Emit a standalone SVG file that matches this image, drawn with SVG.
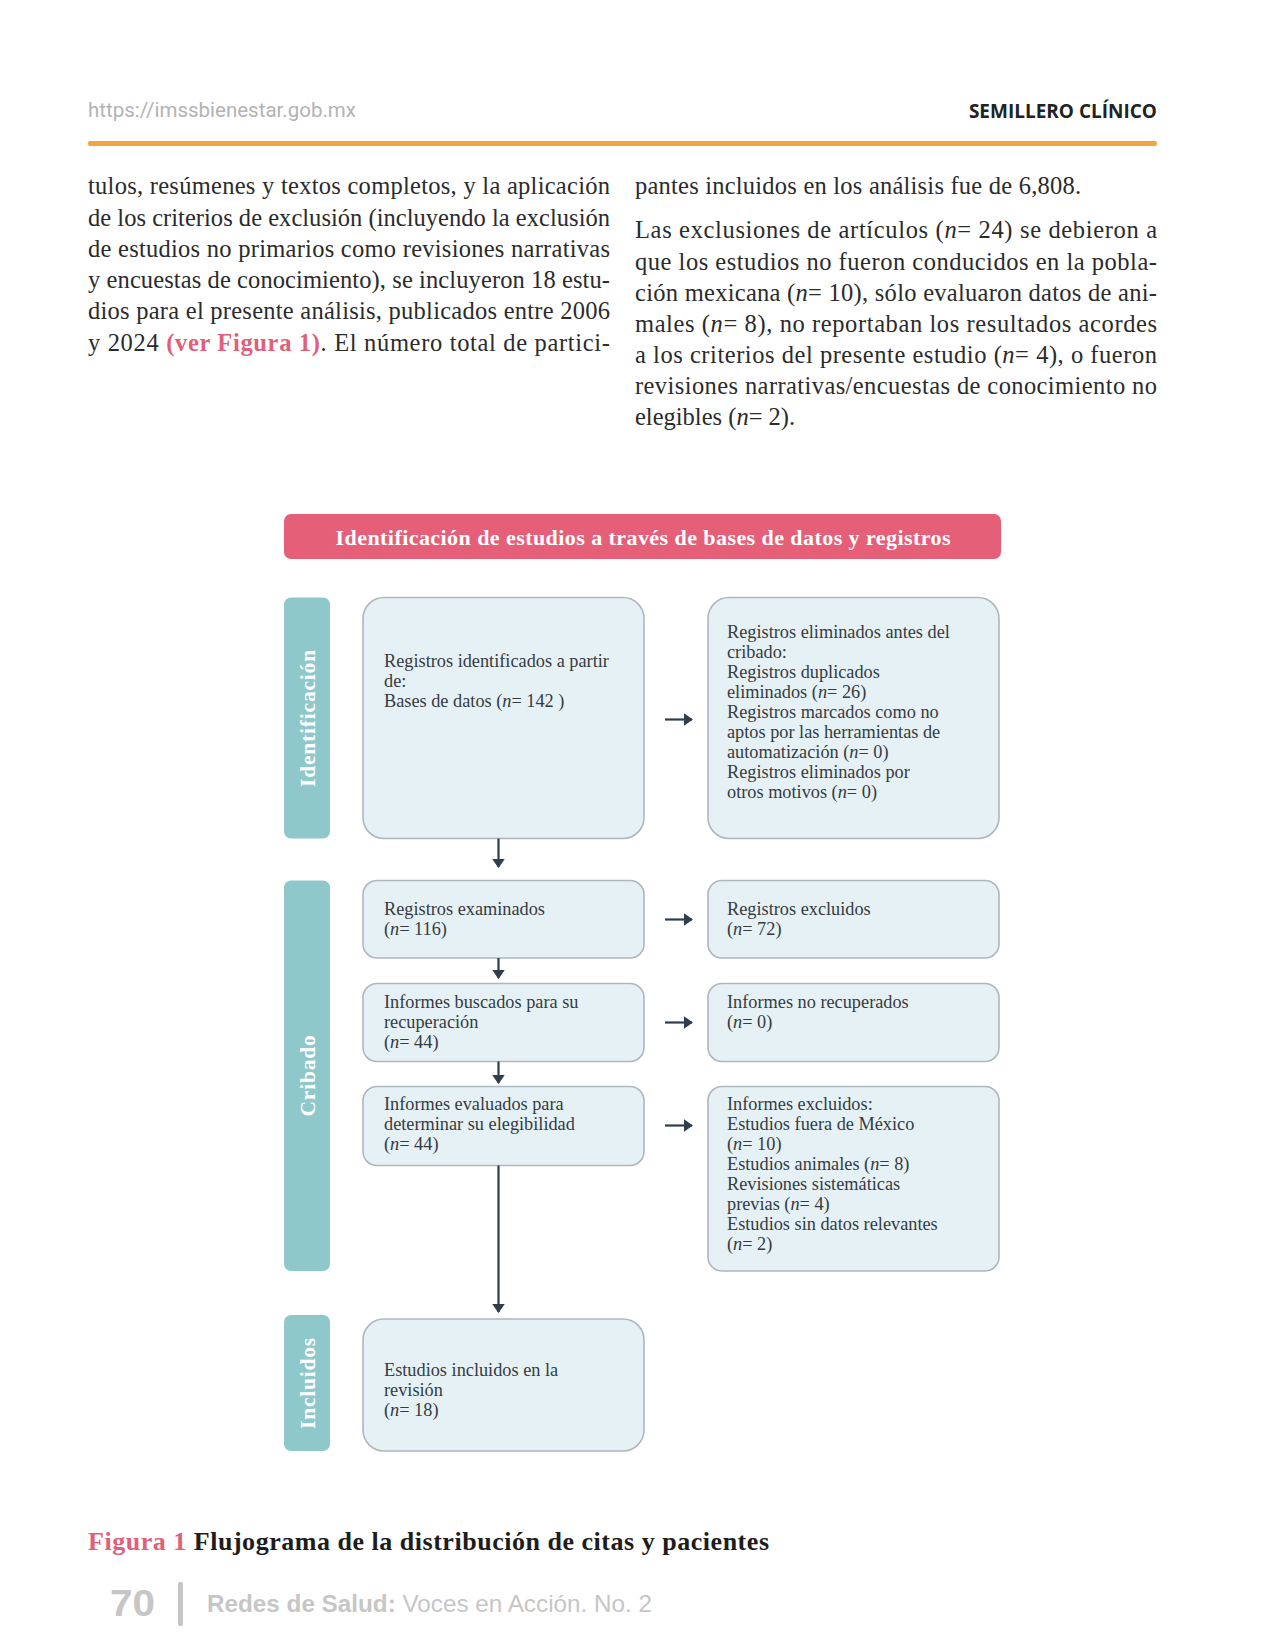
<svg xmlns="http://www.w3.org/2000/svg" width="1275" height="1650" viewBox="0 0 1275 1650">
<defs>
<style>
.body{font-family:"Liberation Serif","DejaVu Serif",serif;font-size:24.5px;fill:#2b2b2b}
.bx{font-family:"Liberation Serif","DejaVu Serif",serif;font-size:18.3px;fill:#353b40}
.box{fill:#E6F1F6;stroke:#AEB7BD;stroke-width:1.6}
.side{fill:#8EC8CB}
.sidet{font-family:"Liberation Serif","DejaVu Serif",serif;font-size:21.5px;font-weight:bold;fill:#ffffff;text-anchor:middle;letter-spacing:0.8px}
.conn{stroke:#2F3E4C;stroke-width:2.2;fill:none}
.i{font-style:italic}
</style>
<marker id="ah" viewBox="0 0 10 14" refX="9" refY="7" markerWidth="4.2" markerHeight="5.9" orient="auto" markerUnits="strokeWidth">
<path d="M0,0 L10,7 L0,14 Z" fill="#2F3E4C"/>
</marker>
</defs>
<rect width="1275" height="1650" fill="#ffffff"/>

<!-- header -->
<text x="88" y="117" font-family="Roboto,'Liberation Sans',sans-serif" font-size="20.5" fill="#B3B3B3">https://imssbienestar.gob.mx</text>
<text x="1157" y="118" font-family="'Open Sans','Noto Sans',sans-serif" font-size="19" font-weight="bold" fill="#222" text-anchor="end">SEMILLERO CLÍNICO</text>
<rect x="88" y="141" width="1069" height="5" rx="2" fill="#F2A541"/>

<!-- body left column -->
<g class="body">
<text x="88" y="194" textLength="522" lengthAdjust="spacing">tulos, resúmenes y textos completos, y la aplicación</text>
<text x="88" y="226" textLength="522" lengthAdjust="spacing">de los criterios de exclusión (incluyendo la exclusión</text>
<text x="88" y="257" textLength="522" lengthAdjust="spacing">de estudios no primarios como revisiones narrativas</text>
<text x="88" y="288" textLength="522" lengthAdjust="spacing">y encuestas de conocimiento), se incluyeron 18 estu-</text>
<text x="88" y="319" textLength="522" lengthAdjust="spacing">dios para el presente análisis, publicados entre 2006</text>
<text x="88" y="351" textLength="522" lengthAdjust="spacing">y 2024 <tspan fill="#E0607A" font-weight="bold">(ver Figura 1)</tspan>. El número total de partici-</text>
</g>
<!-- body right column -->
<g class="body">
<text x="635" y="194" textLength="446" lengthAdjust="spacing">pantes incluidos en los análisis fue de 6,808.</text>
<text x="635" y="238" textLength="522" lengthAdjust="spacing">Las exclusiones de artículos (<tspan class="i">n</tspan>= 24) se debieron a</text>
<text x="635" y="270" textLength="522" lengthAdjust="spacing">que los estudios no fueron conducidos en la pobla-</text>
<text x="635" y="301" textLength="522" lengthAdjust="spacing">ción mexicana (<tspan class="i">n</tspan>= 10), sólo evaluaron datos de ani-</text>
<text x="635" y="332" textLength="522" lengthAdjust="spacing">males (<tspan class="i">n</tspan>= 8), no reportaban los resultados acordes</text>
<text x="635" y="363" textLength="522" lengthAdjust="spacing">a los criterios del presente estudio (<tspan class="i">n</tspan>= 4), o fueron</text>
<text x="635" y="394" textLength="522" lengthAdjust="spacing">revisiones narrativas/encuestas de conocimiento no</text>
<text x="635" y="425">elegibles (<tspan class="i">n</tspan>= 2).</text>
</g>

<!-- title bar -->
<g id="title">
<rect x="284" y="514" width="717" height="45" rx="7" fill="#E65F78"/>
<text x="643" y="545" font-family="'Liberation Serif','DejaVu Serif',serif" font-size="22" font-weight="bold" fill="#ffffff" text-anchor="middle" textLength="615" lengthAdjust="spacing">Identificación de estudios a través de bases de datos y registros</text>
</g>

<!-- side labels -->
<g id="side-identificacion">
<rect class="side" x="284" y="597.5" width="46" height="241" rx="7"/>
<text class="sidet" transform="translate(315,718) rotate(-90)">Identificación</text>
</g>
<g id="side-cribado">
<rect class="side" x="284" y="880.5" width="46" height="390.5" rx="7"/>
<text class="sidet" transform="translate(315,1075.5) rotate(-90)">Cribado</text>
</g>
<g id="side-incluidos">
<rect class="side" x="284" y="1315" width="46" height="136" rx="7"/>
<text class="sidet" transform="translate(315,1383) rotate(-90)">Incluidos</text>
</g>

<!-- left boxes -->
<g id="n-identificados">
<rect class="box" x="363" y="597.5" width="281" height="241" rx="21"/>
<text class="bx" x="384" y="667">Registros identificados a partir</text>
<text class="bx" x="384" y="687">de:</text>
<text class="bx" x="384" y="707">Bases de datos (<tspan class="i">n</tspan>= 142 )</text>
</g>
<g id="n-examinados">
<rect class="box" x="363" y="880.5" width="281" height="77.5" rx="14"/>
<text class="bx" x="384" y="915">Registros examinados</text>
<text class="bx" x="384" y="935">(<tspan class="i">n</tspan>= 116)</text>
</g>
<g id="n-buscados">
<rect class="box" x="363" y="983.5" width="281" height="78" rx="14"/>
<text class="bx" x="384" y="1008">Informes buscados para su</text>
<text class="bx" x="384" y="1028">recuperación</text>
<text class="bx" x="384" y="1048">(<tspan class="i">n</tspan>= 44)</text>
</g>
<g id="n-evaluados">
<rect class="box" x="363" y="1086.5" width="281" height="79" rx="14"/>
<text class="bx" x="384" y="1110">Informes evaluados para</text>
<text class="bx" x="384" y="1130">determinar su elegibilidad</text>
<text class="bx" x="384" y="1150">(<tspan class="i">n</tspan>= 44)</text>
</g>
<g id="n-incluidos">
<rect class="box" x="363" y="1319" width="281" height="132" rx="21"/>
<text class="bx" x="384" y="1376">Estudios incluidos en la</text>
<text class="bx" x="384" y="1396">revisión</text>
<text class="bx" x="384" y="1416">(<tspan class="i">n</tspan>= 18)</text>
</g>

<!-- right boxes -->
<g id="n-eliminados">
<rect class="box" x="708" y="597.5" width="291" height="241" rx="21"/>
<text class="bx" x="727" y="638">Registros eliminados antes del</text>
<text class="bx" x="727" y="658">cribado:</text>
<text class="bx" x="727" y="678">Registros duplicados</text>
<text class="bx" x="727" y="698">eliminados (<tspan class="i">n</tspan>= 26)</text>
<text class="bx" x="727" y="718">Registros marcados como no</text>
<text class="bx" x="727" y="738">aptos por las herramientas de</text>
<text class="bx" x="727" y="758">automatización (<tspan class="i">n</tspan>= 0)</text>
<text class="bx" x="727" y="778">Registros eliminados por</text>
<text class="bx" x="727" y="798">otros motivos (<tspan class="i">n</tspan>= 0)</text>
</g>
<g id="n-excluidos">
<rect class="box" x="708" y="880.5" width="291" height="77.5" rx="14"/>
<text class="bx" x="727" y="915">Registros excluidos</text>
<text class="bx" x="727" y="935">(<tspan class="i">n</tspan>= 72)</text>
</g>
<g id="n-norecuperados">
<rect class="box" x="708" y="983.5" width="291" height="78" rx="14"/>
<text class="bx" x="727" y="1008">Informes no recuperados</text>
<text class="bx" x="727" y="1028">(<tspan class="i">n</tspan>= 0)</text>
</g>
<g id="n-informesexcluidos">
<rect class="box" x="708" y="1086.5" width="291" height="184.5" rx="14"/>
<text class="bx" x="727" y="1110">Informes excluidos:</text>
<text class="bx" x="727" y="1130">Estudios fuera de México</text>
<text class="bx" x="727" y="1150">(<tspan class="i">n</tspan>= 10)</text>
<text class="bx" x="727" y="1170">Estudios animales (<tspan class="i">n</tspan>= 8)</text>
<text class="bx" x="727" y="1190">Revisiones sistemáticas</text>
<text class="bx" x="727" y="1210">previas (<tspan class="i">n</tspan>= 4)</text>
<text class="bx" x="727" y="1230">Estudios sin datos relevantes</text>
<text class="bx" x="727" y="1250">(<tspan class="i">n</tspan>= 2)</text>
</g>

<!-- connectors -->
<g id="connectors" class="conn">
<line x1="665" y1="719.5" x2="692" y2="719.5" marker-end="url(#ah)"/>
<line x1="665" y1="919.5" x2="692" y2="919.5" marker-end="url(#ah)"/>
<line x1="665" y1="1022.5" x2="692" y2="1022.5" marker-end="url(#ah)"/>
<line x1="665" y1="1125.5" x2="692" y2="1125.5" marker-end="url(#ah)"/>
<line x1="498.5" y1="838.5" x2="498.5" y2="867" marker-end="url(#ah)"/>
<line x1="498.5" y1="958" x2="498.5" y2="978" marker-end="url(#ah)"/>
<line x1="498.5" y1="1061.5" x2="498.5" y2="1083" marker-end="url(#ah)"/>
<line x1="498.5" y1="1165.5" x2="498.5" y2="1312" marker-end="url(#ah)"/>
</g>

<!-- caption -->
<text x="88" y="1550" font-family="'Liberation Serif','DejaVu Serif',serif" font-size="26" font-weight="bold" fill="#1d1d1d" textLength="681" lengthAdjust="spacing"><tspan fill="#E0607A">Figura 1</tspan> Flujograma de la distribución de citas y pacientes</text>

<!-- footer -->
<text x="110" y="1616" font-family="'Liberation Sans',Arial,sans-serif" font-size="37" font-weight="bold" fill="#C6C6C6" textLength="45" lengthAdjust="spacingAndGlyphs">70</text>
<rect x="178" y="1582" width="5" height="44" rx="2" fill="#C6C6C6"/>
<text x="207" y="1612" font-family="'Liberation Sans',Arial,sans-serif" font-size="24" fill="#C6C6C6" textLength="445" lengthAdjust="spacingAndGlyphs"><tspan font-weight="bold">Redes de Salud:</tspan> Voces en Acción. No. 2</text>
</svg>
